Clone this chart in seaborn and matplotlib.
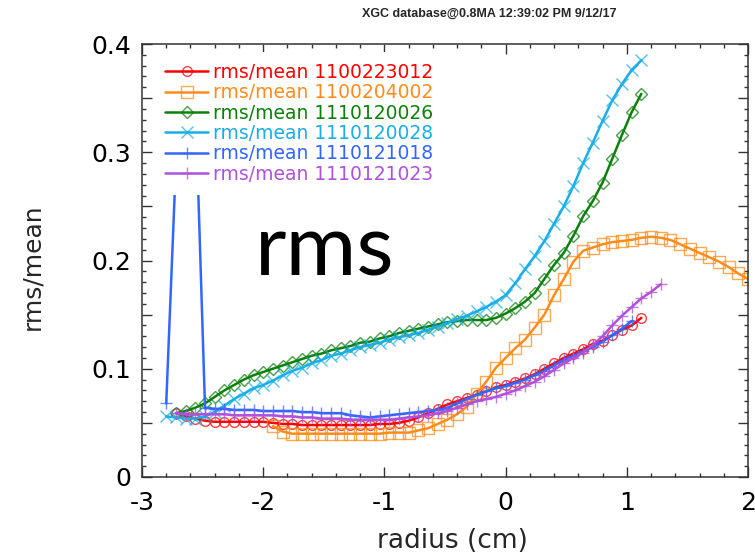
import matplotlib
matplotlib.use("Agg")
import matplotlib.pyplot as plt
from matplotlib.ticker import MultipleLocator, FuncFormatter
import numpy as np
import seaborn as sns

# radial grid shared by all shots (cm)
radius = [-2.80, -2.72, -2.64, -2.56, -2.48, -2.40, -2.32, -2.24, -2.16, -2.08,
          -2.00, -1.92, -1.84, -1.76, -1.68, -1.60, -1.52, -1.44, -1.36, -1.28,
          -1.20, -1.12, -1.04, -0.96, -0.88, -0.80, -0.72, -0.64, -0.56, -0.48,
          -0.40, -0.32, -0.24, -0.16, -0.08, 0.00, 0.08, 0.16, 0.24, 0.32,
          0.40, 0.48, 0.56, 0.64, 0.72, 0.80, 0.88, 0.96, 1.04, 1.12,
          1.20, 1.28, 1.36, 1.44, 1.52, 1.60, 1.68, 1.76, 1.84, 1.92, 2.00]

# rms/mean per shot, first value sits at radius[start]
rms_1100223012 = [0.059, 0.056, 0.054, 0.052, 0.051, 0.051, 0.051, 0.051, 0.051, 0.051,
                  0.050, 0.049, 0.049, 0.048, 0.048, 0.048, 0.048, 0.048, 0.048, 0.048,
                  0.048, 0.049, 0.049, 0.050, 0.052, 0.055, 0.059, 0.063, 0.067, 0.070,
                  0.073, 0.076, 0.079, 0.083, 0.085, 0.088, 0.091, 0.095, 0.100, 0.105,
                  0.110, 0.114, 0.118, 0.123, 0.126, 0.131, 0.136, 0.140, 0.147]
rms_1100204002 = [0.047, 0.042, 0.040, 0.040, 0.040, 0.040, 0.040, 0.040, 0.040, 0.040,
                  0.040, 0.040, 0.041, 0.041, 0.041, 0.043, 0.045, 0.049, 0.053, 0.058,
                  0.065, 0.077, 0.088, 0.101, 0.110, 0.119, 0.127, 0.138, 0.150, 0.168,
                  0.183, 0.199, 0.209, 0.212, 0.215, 0.217, 0.218, 0.219, 0.221, 0.222,
                  0.221, 0.219, 0.215, 0.211, 0.207, 0.203, 0.199, 0.194, 0.188, 0.183]
rms_1110120026 = [0.059, 0.061, 0.064, 0.068, 0.074, 0.080, 0.085, 0.090, 0.094, 0.097,
                  0.100, 0.103, 0.106, 0.109, 0.112, 0.114, 0.117, 0.119, 0.121, 0.124,
                  0.125, 0.128, 0.130, 0.133, 0.135, 0.137, 0.139, 0.141, 0.143, 0.144,
                  0.145, 0.145, 0.145, 0.147, 0.151, 0.156, 0.162, 0.170, 0.183, 0.196,
                  0.207, 0.223, 0.241, 0.255, 0.272, 0.294, 0.316, 0.337, 0.354]
rms_1110120028 = [0.056, 0.055, 0.054, 0.054, 0.056, 0.060, 0.066, 0.072, 0.077, 0.082,
                  0.085, 0.089, 0.094, 0.098, 0.101, 0.105, 0.108, 0.112, 0.114, 0.117,
                  0.120, 0.122, 0.124, 0.127, 0.129, 0.131, 0.133, 0.136, 0.139, 0.142,
                  0.146, 0.149, 0.153, 0.157, 0.162, 0.168, 0.179, 0.192, 0.204, 0.218,
                  0.234, 0.250, 0.269, 0.290, 0.309, 0.329, 0.348, 0.363, 0.376, 0.385]
rms_1110121018 = [0.068, 0.290, 0.360, 0.350, 0.064, 0.063, 0.063, 0.062, 0.062, 0.062,
                  0.061, 0.061, 0.061, 0.061, 0.060, 0.060, 0.059, 0.059, 0.059, 0.057,
                  0.056, 0.055, 0.056, 0.057, 0.058, 0.059, 0.060, 0.061, 0.062, 0.064,
                  0.068, 0.072, 0.076, 0.079, 0.082, 0.084, 0.087, 0.090, 0.094, 0.098,
                  0.103, 0.108, 0.112, 0.116, 0.120, 0.125, 0.131, 0.137, 0.144]
rms_1110121023 = [0.059, 0.058, 0.058, 0.058, 0.058, 0.058, 0.057, 0.057, 0.057, 0.057,
                  0.057, 0.056, 0.056, 0.055, 0.055, 0.054, 0.054, 0.054, 0.053, 0.053,
                  0.053, 0.053, 0.053, 0.054, 0.055, 0.056, 0.057, 0.059, 0.061, 0.064,
                  0.067, 0.070, 0.072, 0.074, 0.077, 0.080, 0.084, 0.088, 0.093, 0.099,
                  0.105, 0.110, 0.115, 0.122, 0.130, 0.140, 0.149, 0.157, 0.165, 0.171, 0.178]

shots = ["1100223012", "1100204002", "1110120026", "1110120028", "1110121018", "1110121023"]
series = [rms_1100223012, rms_1100204002, rms_1110120026, rms_1110120028, rms_1110121018, rms_1110121023]
starts = [1, 11, 1, 0, 0, 1]
colors = ["#ff0000", "#ff8c1a", "#0b800b", "#19aee8", "#3366ff", "#b050dd"]
markers = ["o", "s", "D", "x", "+", "+"]
msizes = [7, 8, 6, 8, 9, 9]

sns.set_style("ticks")
plt.rcParams['font.family'] = ['DejaVu Sans']
plt.rcParams['axes.unicode_minus'] = False

fig = plt.figure(figsize=(7.55, 5.54), dpi=100)
ax = fig.add_axes([142/755, 77/554, 606/755, 433/554])

for shot, y, s0, c, m, ms in zip(shots, series, starts, colors, markers, msizes):
    x = radius[s0:s0 + len(y)]
    rgb = matplotlib.colors.to_rgb(c)
    every = None
    if shot == "1110121018":
        # no symbols on the spike near the edge
        every = [0] + list(range(4, len(y)))
    sns.lineplot(x=x, y=y, ax=ax, color=c, lw=1.8, marker=m, ms=ms,
                 mfc="none", mec=rgb + (0.75,), mew=1.0, markevery=every,
                 label=f"rms/mean {shot}", sort=False, zorder=2)

ax.set_xlim(-3, 2)
ax.set_ylim(0, 0.4)
ax.xaxis.set_major_locator(MultipleLocator(1))
ax.xaxis.set_minor_locator(MultipleLocator(0.2))
ax.yaxis.set_major_locator(MultipleLocator(0.05))
ax.yaxis.set_minor_locator(MultipleLocator(0.01))
ax.xaxis.set_major_formatter(FuncFormatter(lambda v, p: "%g" % v))
ax.yaxis.set_major_formatter(FuncFormatter(
    lambda v, p: ("%g" % round(v, 2)) if abs(v * 10 - round(v * 10)) < 1e-6 else ""))
ax.tick_params(which="both", direction="in", top=True, right=True,
               colors="#333333", labelcolor="black", labelsize=18, width=1.0)
ax.tick_params(which="major", length=7)
ax.tick_params(which="minor", length=3)
ax.tick_params(axis="x", pad=10)
ax.tick_params(axis="y", pad=8)
for sp in ax.spines.values():
    sp.set_color("#333333")
    sp.set_linewidth(1.1)

ax.set_xlabel("radius (cm)", fontsize=19)
ax.set_ylabel("rms/mean", fontsize=18)
ax.xaxis.set_label_coords(0.513, -0.118)
ax.yaxis.set_label_coords(-0.162, 0.485)

leg = ax.legend(loc="upper left", bbox_to_anchor=(0.02, 0.982), borderaxespad=0,
                fontsize=13.5, labelcolor="linecolor", handlelength=2.3,
                handletextpad=0.25, labelspacing=0.07, borderpad=0.6,
                frameon=True, fancybox=False, framealpha=1.0)
leg.get_frame().set_facecolor("white")
leg.get_frame().set_edgecolor("none")

fig.text(489/755, 1 - 14/554, "XGC database@0.8MA 12:39:02 PM 9/12/17",
         ha="center", va="center", fontsize=9, fontweight="bold",
         family="Liberation Sans")
ax.text(325/755, 1 - 275/554, "rms", transform=fig.transFigure, ha="center",
        va="baseline", fontsize=62, family="Lato", color="black")

fig.savefig("out.png", dpi=100)
